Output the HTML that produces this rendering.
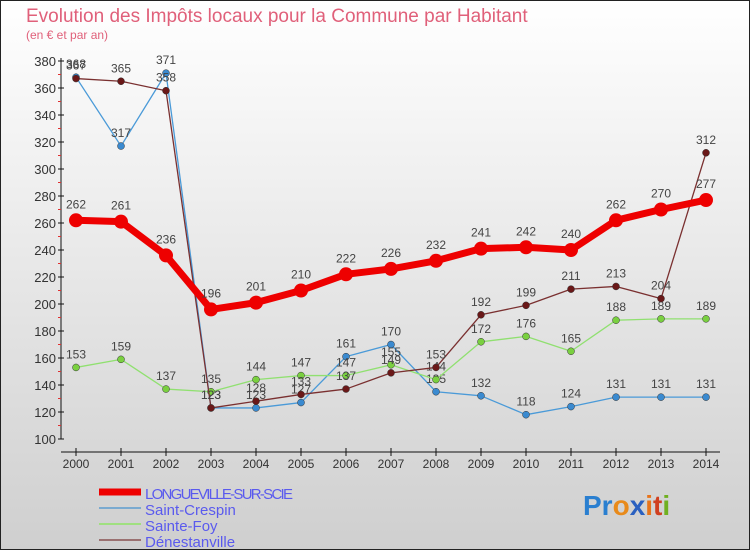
<!DOCTYPE html>
<html><head><meta charset="utf-8"><style>
body{margin:0;width:750px;height:550px;overflow:hidden;font-family:"Liberation Sans",sans-serif}
svg text{font-family:"Liberation Sans",sans-serif}
</style></head><body>
<svg id="c" width="750" height="550" xmlns="http://www.w3.org/2000/svg">
<defs><linearGradient id="bg" x1="0" y1="0" x2="0" y2="1"><stop offset="0" stop-color="#ffffff"/><stop offset="1" stop-color="#cfcfcf"/></linearGradient></defs>
<rect x="0.5" y="0.5" width="749" height="549" fill="url(#bg)" stroke="#222"/>
<text x="26" y="22" font-size="19" fill="#e0607a">Evolution des Impôts locaux pour la Commune par Habitant</text>
<text x="26" y="39" font-size="12" fill="#e0607a">(en € et par an)</text>
<g id="axes"></g><g id="series"></g><g id="legend"></g>
<text x="583" y="515" font-size="28" font-weight="bold"><tspan fill="#2a7fd0">Pr</tspan><tspan fill="#e88a1a">o</tspan><tspan fill="#2a60c0">x</tspan><tspan fill="#e8741a">i</tspan><tspan fill="#d04020">t</tspan><tspan fill="#70b020">i</tspan></text>
</svg>
<script>
const years=[2000,2001,2002,2003,2004,2005,2006,2007,2008,2009,2010,2011,2012,2013,2014];
const yTicks=[100,120,140,160,180,200,220,240,260,280,300,320,340,360,380];
const longueville=[262,261,236,196,201,210,222,226,232,241,242,240,262,270,277];
const saintCrespin=[368,317,371,123,123,127,161,170,135,132,118,124,131,131,131];
const sainteFoy=[153,159,137,135,144,147,147,155,144,172,176,165,188,189,189];
const denestanville=[367,365,358,123,128,133,137,149,153,192,199,211,213,204,312];
const seriesNames=["LONGUEVILLE-SUR-SCIE","Saint-Crespin","Sainte-Foy","Dénestanville"];
const NS="http://www.w3.org/2000/svg";
const X=i=>76+(i)*(630/(years.length-1));
const Y=v=>439-(v-100)*(378/280);
function mk(tag,attrs,parent){const e=document.createElementNS(NS,tag);for(const k in attrs)e.setAttribute(k,attrs[k]);parent.appendChild(e);return e;}
const ax=document.getElementById('axes');
let l=mk('line',{x1:61,y1:58,x2:61,y2:439,stroke:'#111'},ax);


l=mk('line',{x1:61,y1:452,x2:720,y2:452,stroke:'#111'},ax);


yTicks.forEach(v=>{
 mk('line',{x1:58,y1:Y(v),x2:64,y2:Y(v),stroke:'#111'},ax);
 if(v<380) mk('line',{x1:58,y1:Y(v+10),x2:61,y2:Y(v+10),stroke:'#e03030'},ax);
 const t=mk('text',{x:56,y:Y(v)+5,'font-size':13,'text-anchor':'end',fill:'#333'},ax);t.textContent=v;
 
 
});
years.forEach((yr,i)=>{
 mk('line',{x1:X(i),y1:448,x2:X(i),y2:456,stroke:'#111'},ax);
 const t=mk('text',{x:X(i),y:468,'font-size':12,'text-anchor':'middle',fill:'#333'},ax);t.textContent=yr;
 
 
});
const sg=document.getElementById('series');
const defs=[[saintCrespin,'#4a9ad8','#3a8ad0',1.3,3.5,'saint-crespin'],[sainteFoy,'#90e070','#7ad040',1.3,3.5,'sainte-foy'],[denestanville,'#7a3030','#6a1818',1.3,3.5,'denestanville'],[longueville,'#ee0000','#ee0000',7,7,'longueville']];
defs.forEach(([d,lc,pc,w,r,nm])=>{
 const g=mk('g',{},sg);
 
 
 const p=mk('polyline',{points:d.map((v,i)=>X(i)+','+Y(v)).join(' '),fill:'none',stroke:lc,'stroke-width':w,'stroke-linejoin':'round'},g);
 
 
 d.forEach((v,i)=>{
  const c=mk('circle',{cx:X(i),cy:Y(v),r:r,fill:pc,stroke:nm=='longueville'?'none':'#333','stroke-width':0.5},g);
  
  
  const t=mk('text',{x:X(i),y:Y(v)-(nm=='longueville'?12:9),'font-size':12,'text-anchor':'middle',fill:'#444'},g);t.textContent=v;
  
  
 });
});
const lg=document.getElementById('legend');
const lcols=['#ee0000','#7aaad0','#a0e080','#9a7070'],lw=[7,2,2,2];
seriesNames.forEach((n,i)=>{
 const y=492+i*16;
 const e=mk('line',{x1:99,y1:y,x2:141,y2:y,stroke:lcols[i],'stroke-width':lw[i]},lg);
 
 
 const t=mk('text',{x:145,y:y+7,'font-size':15,fill:'#5a5aee',textLength:i==0?148:0},lg);
 if(i!=0)t.removeAttribute('textLength');
 t.textContent=n;
 
 
});
</script>
</body></html>
